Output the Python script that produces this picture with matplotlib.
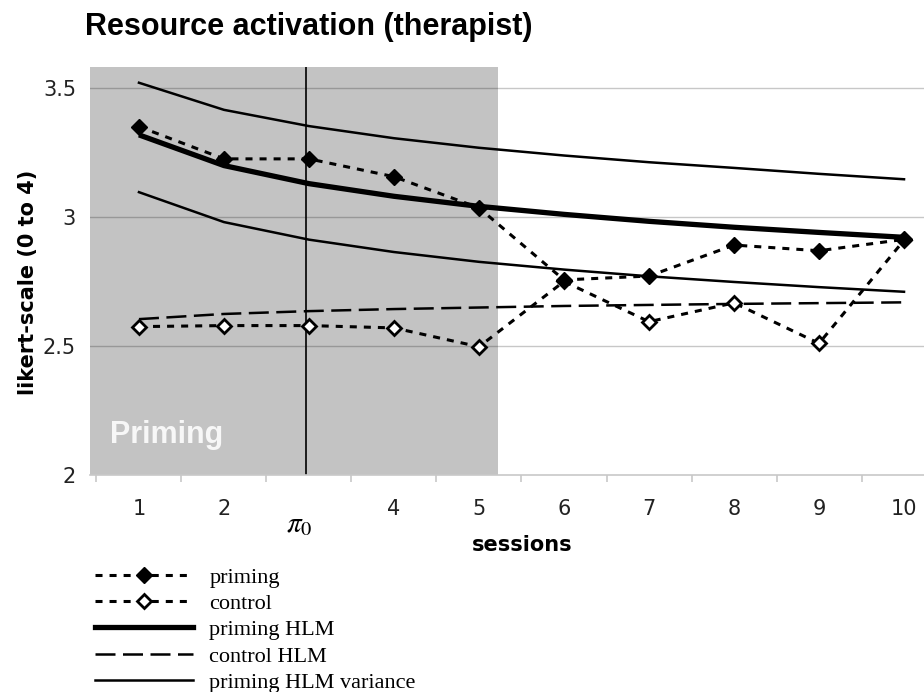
"""Resource activation (therapist): priming vs control sessions with HLM fits."""
import matplotlib
matplotlib.use("Agg")
import matplotlib.pyplot as plt
from matplotlib.lines import Line2D
from matplotlib.transforms import blended_transform_factory

sessions = [1, 2, 3, 4, 5, 6, 7, 8, 9, 10]
tick_labels = ["1", "2", "", "4", "5", "6", "7", "8", "9", "10"]
priming = [3.35, 3.225, 3.225, 3.156, 3.035, 2.756, 2.771, 2.891, 2.869, 2.913]
control = [2.575, 2.579, 2.579, 2.57, 2.497, 2.75, 2.594, 2.667, 2.51, 2.91]
priming_hlm = [3.318, 3.199, 3.129, 3.080, 3.041, 3.010, 2.983, 2.960, 2.940, 2.921]
control_hlm = [2.604, 2.624, 2.635, 2.643, 2.649, 2.655, 2.659, 2.663, 2.666, 2.669]
variance_upper = [3.52, 3.415, 3.352, 3.305, 3.268, 3.238, 3.212, 3.19, 3.167, 3.146]
variance_lower = [3.096, 2.980, 2.912, 2.864, 2.826, 2.796, 2.770, 2.748, 2.728, 2.710]
legend_labels = ["priming", "control", "priming HLM", "control HLM", "priming HLM variance"]
pi0_session = 3
priming_end = 5.22

fig = plt.figure(figsize=(9.24, 6.92), dpi=100)
ax = fig.add_axes([90 / 924, 217 / 692, 834 / 924, 408 / 692])
ax.set_xlim(0.424, 10.235)
ax.set_ylim(2.0, 3.581)

# priming phase band + pi0 marker
ax.axvspan(0.424, priming_end, color="#c3c3c3", zorder=0, lw=0)
ax.axvline(pi0_session - 0.04, color="black", lw=1.2, zorder=2)
for v in [2.5, 3.0, 3.5]:
    ax.axhline(v, color="black", alpha=0.22, lw=1.0, zorder=1)

dot = (2.3, 2.3)
ax.plot(sessions, variance_upper, color="black", lw=1.8, zorder=3)
ax.plot(sessions, variance_lower, color="black", lw=1.8, zorder=3)
ax.plot(sessions, control_hlm, color="black", lw=1.8, dashes=(8, 3), zorder=3)
ax.plot(sessions, priming_hlm, color="black", lw=3.8, zorder=3, solid_capstyle="butt")
ax.plot(sessions, control, color="black", lw=2.2, dashes=dot, marker="D", ms=7,
        mfc="white", mec="black", mew=2, zorder=4)
ax.plot(sessions, priming, color="black", lw=2.2, dashes=dot, marker="D", ms=8,
        mfc="black", mec="black", zorder=5)

ax.text(20 / 834, 32 / 408, "Priming", color="#f7f7f7", transform=ax.transAxes,
        fontsize=22, fontweight="bold", family="Liberation Sans", va="baseline", zorder=6)

for side in ["top", "right", "left"]:
    ax.spines[side].set_visible(False)
ax.spines["bottom"].set_color("#c8c8c8")
ax.spines["bottom"].set_linewidth(1.2)

ax.set_xticks([s - 0.5 for s in sessions])
ax.set_xticklabels([])
ax.tick_params(axis="x", which="major", length=5, color="#c8c8c8", width=1.2)
ax.set_xticks(sessions, minor=True)
ax.set_xticklabels(tick_labels, minor=True, fontsize=15, color="#222222")
ax.tick_params(axis="x", which="minor", length=0, pad=17)
ax.set_yticks([2, 2.5, 3, 3.5])
ax.set_yticklabels(["2", "2.5", "3", "3.5"], fontsize=15, color="#222222")
ax.tick_params(axis="y", length=0, pad=10)

tr = blended_transform_factory(ax.transData, ax.transAxes)
ax.text(2.88, -0.12, r"$\pi_0$", transform=tr, fontsize=21, ha="center", va="center",
        math_fontfamily="stix")

fig.text(85 / 924, 1 - 35 / 692, "Resource activation (therapist)", fontsize=22,
         fontweight="bold", family="Liberation Sans", va="baseline")
fig.text(28 / 924, 1 - 282 / 692, "likert-scale (0 to 4)", rotation=90, fontsize=15,
         fontweight="bold", ha="center", va="center")
fig.text(522 / 924, 1 - 545 / 692, "sessions", fontsize=15, fontweight="bold",
         ha="center", va="center")

handles = [
    Line2D([], [], color="black", lw=2.2, dashes=dot, marker="D", ms=8, mfc="black"),
    Line2D([], [], color="black", lw=2.2, dashes=dot, marker="D", ms=7, mfc="white", mew=2),
    Line2D([], [], color="black", lw=3.8),
    Line2D([], [], color="black", lw=1.8, dashes=(8, 3)),
    Line2D([], [], color="black", lw=1.8),
]
fig.legend(handles, legend_labels, loc="upper left", bbox_to_anchor=(95 / 924, 1 - 567 / 692),
           frameon=False, borderpad=0, borderaxespad=0, handlelength=4.4, handletextpad=0.75,
           labelspacing=0.26, prop={"family": "Liberation Serif", "size": 16})

fig.savefig("out.png", dpi=100)
